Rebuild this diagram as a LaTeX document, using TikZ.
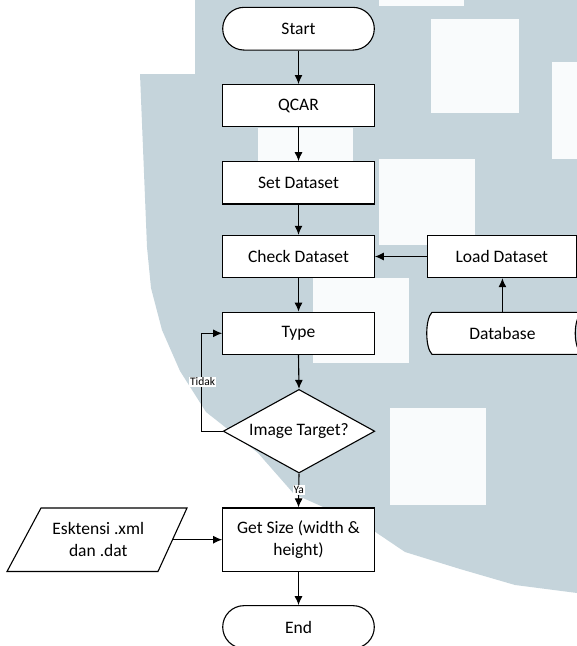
\documentclass[tikz,border=0pt]{standalone}
\usepackage{fontspec}
\setmainfont{Carlito}
\usetikzlibrary{shapes.misc,shapes.geometric,arrows.meta}
\definecolor{wmblue}{RGB}{197,212,219}
\definecolor{wmwhite}{RGB}{249,251,252}
\begin{document}
\begin{tikzpicture}[x=1pt,y=-1pt,
  base/.style={draw=black, fill=white, line width=1.1pt, font=\fontsize{17.5}{22.5}\selectfont, inner sep=0pt, align=center},
  proc/.style={base, rectangle, minimum width=151.6pt, minimum height=42.3pt},
  term/.style={base, rounded rectangle, minimum width=151.6pt, minimum height=42.7pt},
  dec/.style={base, diamond, aspect=1.82, minimum width=151.6pt, minimum height=83.6pt},
  arr/.style={line width=1.1pt, -{Latex[length=9pt,width=8pt]}},
  lbl/.style={fill=white, inner sep=1pt, font=\fontsize{11.5}{13}\selectfont},
  wm/.style={fill=wmwhite, draw=none},
  shapeline/.style={line width=1.1pt, draw=black, fill=white}]
\useasboundingbox (0,0) rectangle (577,646);
\clip (0,0) rectangle (577,646);
% watermark background
\fill[wmblue] (195,0) -- (577,0) -- (577,593) -- (515,585) -- (460,569) -- (405,552) -- (368,527)
  -- (294,494) -- (258,453) -- (206,412) -- (180,371) -- (162,330) -- (151,288) -- (147,247)
  -- (140,74) -- (195,74) -- cycle;
\fill[wm] (431,18.5) rectangle (519,113);
\fill[wm] (552,62) rectangle (580,159);
\fill[wm] (379,159) rectangle (475,245);
\fill[wm] (258,128) rectangle (353,161);
\fill[wm] (313,278) rectangle (409,363);
\fill[wm] (390,408) rectangle (486,505);
\fill[wm] (379,0) rectangle (464,6);
% nodes
\node[term] (start) at (298.5,28.7) {Start};
\node[proc] (qcar) at (298.5,105.7) {QCAR};
\node[proc] (set) at (298.5,182.8) {Set Dataset};
\node[proc] (check) at (298.5,256.5) {Check Dataset};
\node[proc, minimum width=149.5pt] (load) at (501.8,256.5) {Load Dataset};
\node[proc] (type) at (298.5,333.3) {Type};
\node[dec] (dia) at (299,431.2) {Image Target?};
\node[proc, minimum height=63.5pt] (gs) at (298.5,539.7) {Get Size (width \&\\height)};
\node[term] (end) at (298.5,627) {End};
% database (stored data)
\draw[shapeline] (432,312.3) -- (582,312.3) .. controls (573,319) and (573,347.6) .. (582,354.3)
  -- (432,354.3) .. controls (425,347.6) and (425,319) .. (432,312.3) -- cycle;
\node[base, draw=none, fill=none, minimum height=42pt] (db) at (502.4,333.3) {Database};
% parallelogram
\draw[shapeline] (7,571.5) -- (41,508) -- (187,508) -- (158,571.5) -- cycle;
\node[base, draw=none, fill=none, minimum width=148.5pt] (ext) at (98.25,539.7) {Esktensi .xml\\dan .dat};
% connectors
\draw[arr] (start.south) -- (qcar.north);
\draw[arr] (qcar.south) -- (set.north);
\draw[arr] (set.south) -- (check.north);
\draw[arr] (check.south) -- (type.north);
\draw[arr] (type.south) -- (dia.north);
\draw[arr] (load.west) -- (check.east);
\draw[arr] (db.north) -- (db.north |- load.south);
\draw[arr] (ext.east) -- (gs.west);
\draw[arr] (gs.south) -- (end.north);
\draw[arr] (dia.west) -- ++(-21.4,0) coordinate (lp) |- (type.west);
\node[lbl] (tidak) at (202.6,382) {Tidak};
\draw[arr] (dia.south) -- (gs.north) node[lbl, pos=0.49] (ya) {Ya};
\end{tikzpicture}
\end{document}
